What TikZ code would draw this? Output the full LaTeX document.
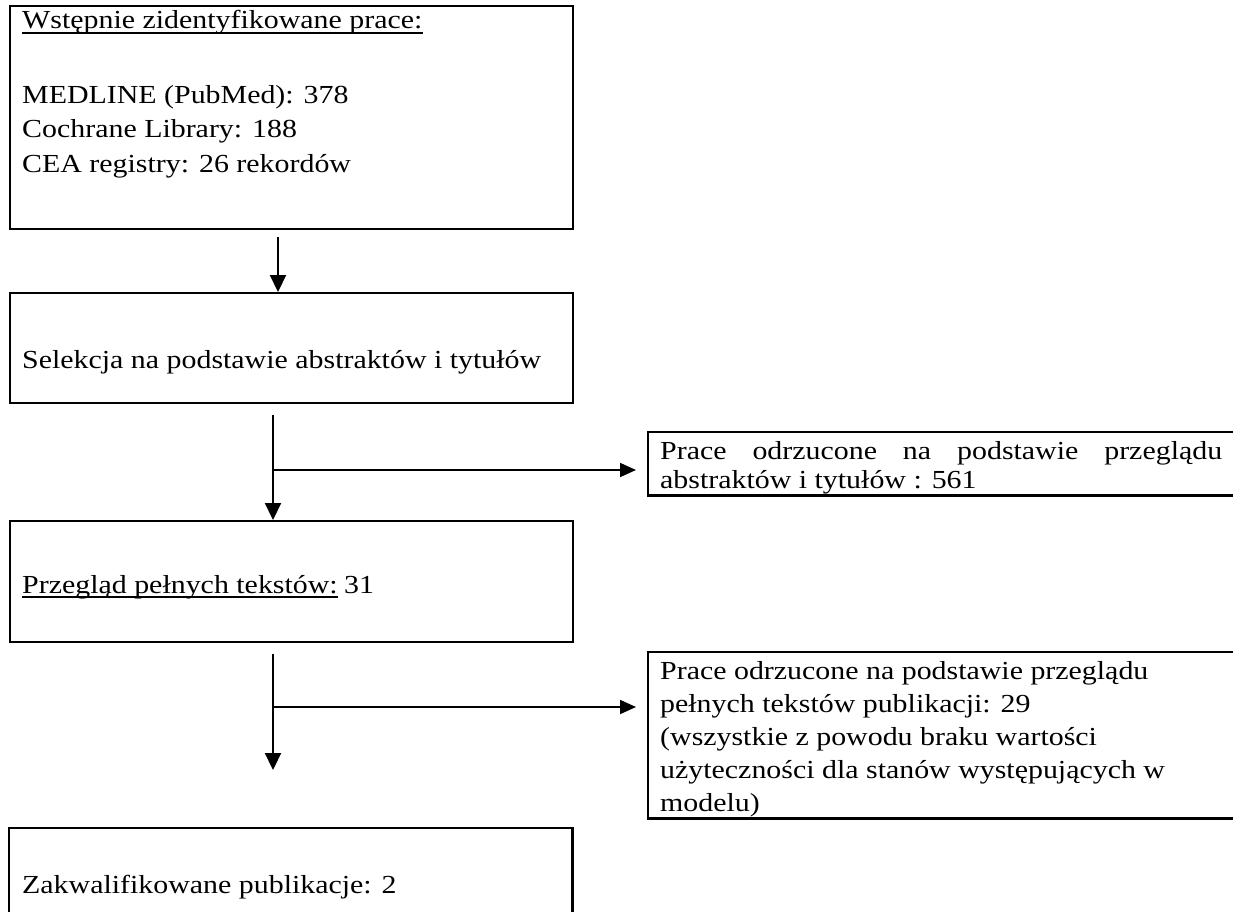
\documentclass[tikz,border=0pt]{standalone}
\usepackage{fontspec}
\setmainfont[FakeStretch=1.15]{Liberation Serif}
\usetikzlibrary{arrows.meta,calc}
\newcommand\myfs{\fontsize{26}{34}\selectfont}
\begin{document}
\begin{tikzpicture}[x=1pt,y=-1pt,
  box/.style={draw, line width=2.2pt, inner sep=0pt, anchor=north west},
  openbox/.style={inner sep=0pt, anchor=north west},
  txt/.style={anchor=base west, inner sep=0pt, font=\myfs},
  vline/.style={line width=2.2pt},
  varr/.style={line width=2.2pt, -{Triangle[length=17pt,width=16pt]}},
  harr/.style={line width=1.8pt, -{Triangle[length=16pt,width=14pt]}},
  uline/.style={line width=1.3pt}]
\useasboundingbox (0,0) rectangle (1233,912);
% main boxes
\node[box, minimum width=563pt, minimum height=223pt] (b1) at (9,5) {};
\node[box, minimum width=563pt, minimum height=110pt] (b2) at (9,292) {};
\node[box, minimum width=563pt, minimum height=121pt] (b3) at (9,520) {};
\node[openbox, minimum width=563pt, minimum height=84pt] (b4) at (9,828) {};
\draw[line width=2.2pt] (b4.south west) -- (b4.north west) -- (b4.north east) -- (b4.south east);
% right open boxes
\node[openbox, minimum width=585pt, minimum height=63pt] (r1) at (648,432) {};
\draw[line width=2.2pt] (r1.north east) -- (r1.north west) -- (r1.south west) -- (r1.south east);
\node[openbox, minimum width=585pt, minimum height=166pt] (r2) at (648,652) {};
\draw[line width=2.2pt] (r2.north east) -- (r2.north west) -- (r2.south west) -- (r2.south east);
% texts box 1
\node[txt] (t1) at (22,29) {Wstępnie zidentyfikowane prace:};
\draw[uline] ($(t1.base west)+(0,4)$) -- ($(t1.base east)+(0,4)$);
\node[txt] (t2) at (22,104) {MEDLINE (PubMed): 378};
\node[txt] (t3) at (22,138) {Cochrane Library: 188};
\node[txt] (t4) at (22,172) {CEA registry: 26 rekordów};
% box 2
\node[txt] (t5) at (22,368) {Selekcja na podstawie abstraktów i tytułów};
% box 3
\node[txt] (t6) at (22,593) {Przegląd pełnych tekstów:};
\draw[uline] ($(t6.base west)+(0,4)$) -- ($(t6.base east)+(0,4)$);
\node[txt, anchor=base west] (t6b) at ($(t6.base east)+(6,0)$) {31};
% box 4
\node[txt] (t7) at (22,893) {Zakwalifikowane publikacje: 2};
% right box 1
\node[txt] (r1a) at (660,459) {\makebox[562pt][s]{Prace odrzucone na podstawie przeglądu}};
\node[txt] (r1b) at (660,488) {abstraktów i tytułów : 561};
% right box 2
\node[txt] (r2a) at (660,679) {Prace odrzucone na podstawie przeglądu};
\node[txt] (r2b) at (660,712) {pełnych tekstów publikacji: 29};
\node[txt] (r2c) at (660,745) {(wszystkie z powodu braku wartości};
\node[txt] (r2d) at (660,778) {użyteczności dla stanów występujących w};
\node[txt] (r2e) at (660,811) {modelu)};
% connectors
\coordinate (a1s) at ($(b1.south west)+(269,7)$);
\draw[varr] (a1s) -- (a1s |- b2.north);
\coordinate (br1) at ($(b2.south west)+(264,11)$);
\coordinate (br1h) at (br1 |- 0,470);
\draw[vline] (br1) -- (br1h);
\draw[varr] (br1h) -- (br1h |- b3.north);
\draw[harr] (br1h) -- ($(br1h -| r1.west)+(-12,0)$);
\coordinate (br2) at ($(b3.south west)+(264,11)$);
\coordinate (br2h) at (br2 |- 0,707);
\coordinate (br2e) at (br2 |- 0,770);
\draw[vline] (br2) -- (br2h);
\draw[varr] (br2h) -- (br2e);
\draw[harr] (br2h) -- ($(br2h -| r2.west)+(-12,0)$);
\end{tikzpicture}
\end{document}
